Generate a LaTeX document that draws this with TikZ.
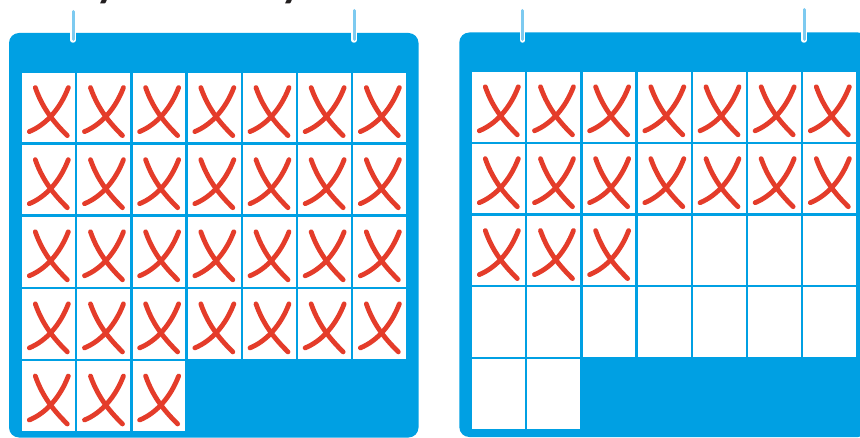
\documentclass[tikz,border=0pt]{standalone}
\usepackage{fontspec}
\newfontfamily\headfont{Lato}
\definecolor{board}{RGB}{0,160,227}
\definecolor{hang}{RGB}{125,202,240}
\definecolor{xred}{RGB}{228,60,42}
\definecolor{ink}{RGB}{35,31,32}
\tikzset{
  boardbox/.style={fill=board, rounded corners=10},
  cell/.style={fill=white, draw=none, inner sep=0, outer sep=0, minimum width=52.7, minimum height=69.8},
  hangline/.style={line width=3, draw=hang, line cap=round},
  hangrim/.style={line width=5.5, draw=white, line cap=round},
  xstroke/.style={draw=xred, line width=4.8, line cap=round},
  headtext/.style={anchor=base, inner sep=0, text=ink, font=\headfont\fontsize{44}{44}\selectfont\bfseries},
  xmark/.pic={
    \draw[xstroke] (13,15) .. controls (21,38) and (34,52) .. (45,63);
    \draw[xstroke] (46,15) .. controls (38,36) and (24,52) .. (7,59);
  }
}
\begin{document}
\begin{tikzpicture}[x=1pt,y=-1pt]
\useasboundingbox (0,0) rectangle (860,438);
% cut-off heading letters
\node[headtext] (ha) at (107,-3) {y};
\node[headtext] (hb) at (292,-3) {y};
% left board
\fill[boardbox] (9,33) rectangle (418.5,437.5);
\draw[hangrim] (73,13) -- (73,40);
\draw[hangline] (73,11.5) -- (73,39.5);
\draw[hangrim] (354,12) -- (354,40);
\draw[hangline] (354,10.5) -- (354,39.5);
\foreach \r in {0,...,3}{
  \foreach \c in {0,...,6}{
    \node[cell] (L-\r-\c) at ({22.3+\c*55.17+26.35},{72.6+\r*72.1+34.9}) {};
    \pic at (L-\r-\c.north west) {xmark};
  }
}
\foreach \c in {0,...,2}{
  \node[cell] (L-4-\c) at ({22.3+\c*55.17+26.35},{72.6+4*72.1+34.9}) {};
  \pic at (L-4-\c.north west) {xmark};
}
% right board
\fill[boardbox] (459.3,32.5) rectangle (868,437);
\draw[hangrim] (522.7,12) -- (522.7,40);
\draw[hangline] (522.7,10.5) -- (522.7,39.5);
\draw[hangrim] (804,11) -- (804,40);
\draw[hangline] (804,9.5) -- (804,39.5);
\foreach \r in {0,...,3}{
  \foreach \c in {0,...,6}{
    \node[cell] (R-\r-\c) at ({472.3+\c*55.17+26.35},{71.8+\r*71.9+34.9}) {};
  }
}
\foreach \c in {0,...,1}{
  \node[cell] (R-4-\c) at ({472.3+\c*55.17+26.35},{71.8+4*71.9+34.9}) {};
}
\foreach \r in {0,1}{
  \foreach \c in {0,...,6}{
    \pic at (R-\r-\c.north west) {xmark};
  }
}
\foreach \c in {0,...,2}{
  \pic at (R-2-\c.north west) {xmark};
}
\end{tikzpicture}
\end{document}
